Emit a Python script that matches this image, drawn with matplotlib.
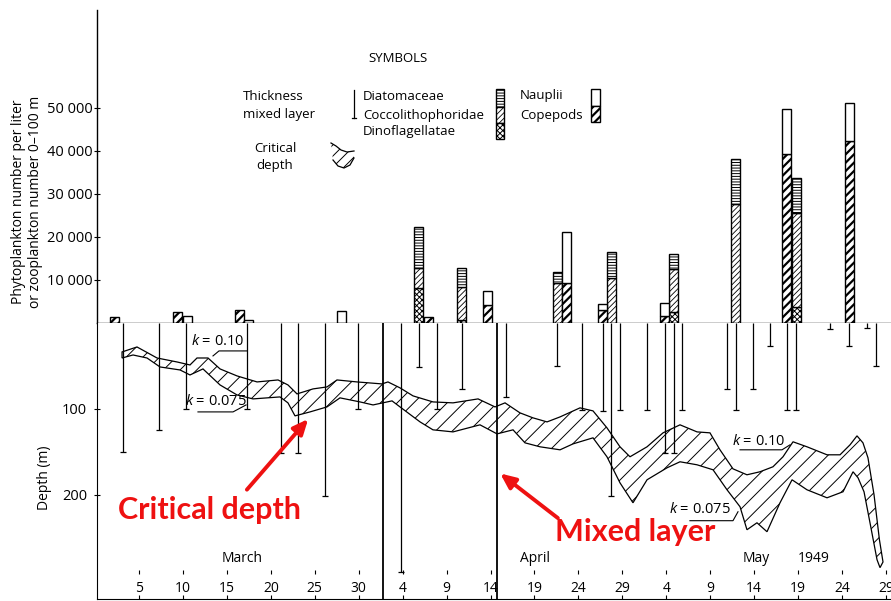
import matplotlib
matplotlib.use('Agg')
import matplotlib.pyplot as plt
from matplotlib.patches import Rectangle, Polygon
import matplotlib.transforms as mtransforms

plt.rcParams['font.family'] = ['Open Sans', 'DejaVu Sans']
plt.rcParams['mathtext.fontset'] = 'custom'
plt.rcParams['mathtext.it'] = 'Open Sans:italic'
plt.rcParams['mathtext.rm'] = 'Open Sans'

# ---------------- data ----------------
count_ticks = [10000, 20000, 30000, 40000, 50000]
count_tick_labels = ['10 000', '20 000', '30 000', '40 000', '50 000']
depth_ticks = [100, 200]
depth_tick_labels = ['100', '200']
# day numbers counted from 1 March 1949
date_ticks = [5, 10, 15, 20, 25, 30, 35, 40, 45, 50, 55, 60, 65, 70, 75, 80, 85, 90]
date_tick_labels = ['5', '10', '15', '20', '25', '30', '4', '9', '14', '19', '24', '29',
                    '4', '9', '14', '19', '24', '29']
month_labels = ['March', 'April', 'May', '1949']
month_label_days = [16.7, 50.1, 75.2, 81.8]

# phytoplankton (number per liter)
phyto_days = [36.3, 41.2, 52.1, 58.25, 65.3, 72.36, 79.31]
dinoflagellatae = [8100, 600, 0, 0, 2500, 0, 3500]
coccolithophoridae = [4600, 7700, 9100, 10400, 10000, 27600, 22000]
diatomaceae = [9500, 4400, 2600, 6100, 3500, 10500, 8100]

# zooplankton (number 0-100 m)
zoo_days = [1.70, 8.87, 10.01, 15.92, 16.94, 27.53, 37.43, 44.14, 53.13, 57.23, 64.28, 78.17, 85.34]
copepods = [1300, 2400, 0, 2900, 0, 0, 1300, 4100, 9100, 3000, 1600, 39300, 42300]
nauplii = [0, 0, 1500, 0, 600, 2700, 0, 3200, 11900, 1300, 2900, 10500, 8900]

# thickness of mixed layer (m)
mixed_days = [3.19, 7.29, 10.36, 17.3, 21.16, 23.1, 26.17, 29.93, 34.81, 36.86, 38.91,
              41.75, 46.76, 52.56, 55.4, 57.79, 58.71, 59.73, 62.8, 64.85, 65.87, 66.78,
              71.91, 72.9, 74.87, 76.8, 78.74, 79.76, 83.6, 85.8, 87.84, 88.85]
mixed_depth = [150, 125, 100, 100, 152, 152, 201, 100, 290, 52, 101,
               77, 87, 51, 102, 103, 202, 102, 102, 152, 152, 102,
               77, 102, 77, 27, 102, 102, 7, 27, 6, 51]
separator_days = [32.76, 45.7]

# critical depth, k = 0.10
crit10_days = [3.07, 4.77, 6.02, 7.05, 9.32, 10.80, 11.60, 12.85, 14.22, 16.15, 18.43, 20.82,
               21.95, 22.98, 24.80, 26.39, 27.53, 29.81, 32.65, 33.33, 34.70, 36.18, 38.45,
               40.73, 43.58, 45.51, 46.65, 48.35, 49.83, 51.43, 52.91, 55.18, 56.66, 58.25,
               59.73, 60.87, 62.81, 64.63, 66.56, 68.50, 69.97, 71.11, 72.59, 74.18, 75.66,
               77.14, 78.28, 79.42, 81.01, 83.29, 84.77, 85.91, 86.70, 87.38, 87.95, 88.64,
               89.25, 89.66]
crit10_depth = [34.2, 28.4, 35.4, 41.2, 45.8, 49.3, 41.2, 41.2, 53.9, 62.0, 69.0, 66.7,
                72.5, 82.9, 77.1, 74.8, 66.7, 69.0, 71.3, 69.0, 75.9, 85.2, 92.2,
                93.3, 88.7, 98.0, 93.3, 104.9, 110.7, 115.4, 109.6, 99.1, 102.6, 122.3,
                144.3, 155.9, 144.3, 128.1, 118.8, 127.0, 128.1, 147.8, 169.9, 176.8, 173.3,
                167.5, 155.9, 138.5, 144.3, 153.6, 153.6, 142.0, 131.6, 139.7, 157.1, 200.0,
                252.0, 278.0]
# critical depth, k = 0.075
crit075_days = [3.07, 4.32, 5.91, 7.39, 9.67, 10.80, 12.28, 14.22, 16.15, 17.97, 21.04, 21.95,
                22.75, 24.46, 26.39, 27.87, 30.15, 31.63, 33.79, 34.70, 36.98, 38.45, 40.73,
                43.80, 45.74, 47.56, 48.92, 50.63, 52.91, 54.39, 56.66, 58.25, 59.73, 61.21,
                62.81, 65.08, 66.56, 68.50, 70.32, 71.91, 73.39, 74.18, 75.32, 76.46, 77.94,
                79.31, 81.01, 83.29, 85.11, 86.25, 86.82, 87.50, 88.18, 88.98, 89.32]
crit075_depth = [41.2, 37.7, 41.2, 51.6, 55.1, 60.9, 53.9, 72.5, 84.1, 88.7, 86.4, 93.3,
                 108.4, 103.8, 98.0, 87.5, 92.2, 95.7, 91.0, 98.0, 115.4, 124.6, 127.0,
                 118.8, 129.3, 124.6, 139.7, 144.3, 147.8, 140.9, 133.9, 155.9, 186.1, 209.3,
                 182.6, 168.7, 161.7, 165.2, 171.0, 194.2, 213.9, 240.6, 232.5, 242.9, 209.3,
                 182.6, 194.2, 203.5, 196.5, 173.3, 180.3, 196.5, 232.5, 275.4, 284.6]

# ---------------- figure ----------------
W, H = 891, 601
fig = plt.figure(figsize=(W / 100, H / 100), dpi=100)

def fx(x):
    return x / W

def fy(y):
    return 1 - y / H

L = 97 / W
axc = fig.add_axes([L, fy(322.5), 1 - L, (322.5 - 10) / H])
axd = fig.add_axes([L, fy(599), 1 - L, (599 - 322.5) / H])
xlim = (0.22, 90.57)

FS = 9.5

# ---- upper panel: plankton bars ----
axc.set_xlim(*xlim)
axc.set_ylim(0, 72840)
for s in ['top', 'right']:
    axc.spines[s].set_visible(False)
axc.spines['left'].set_linewidth(1.0)
axc.spines['bottom'].set_linewidth(1.0)
axc.set_xticks([])
axc.set_yticks(count_ticks)
axc.set_yticklabels(count_tick_labels, fontsize=10.5)
axc.tick_params(axis='y', direction='inout', length=4, width=0.8, pad=1)

w = 1.05

def hbar(ax, x, h, b, hatch, hlw, fc='white'):
    for xi, hi, bi in zip(x, h, b):
        if hi <= 0:
            continue
        with plt.rc_context({'hatch.linewidth': hlw}):
            bars = ax.bar([xi], [hi], bottom=[bi], width=w, align='edge', color=fc,
                          edgecolor='black', linewidth=1.0, hatch=hatch)
        for p in bars:
            try:
                p.set_hatch_linewidth(hlw)
            except Exception:
                pass

zero = [0] * len(phyto_days)
b2 = [a for a in dinoflagellatae]
b3 = [a + c for a, c in zip(dinoflagellatae, coccolithophoridae)]
hbar(axc, phyto_days, dinoflagellatae, zero, 'xxxxxx', 0.7)
hbar(axc, phyto_days, coccolithophoridae, b2, '//////', 0.6)
hbar(axc, phyto_days, diatomaceae, b3, '------', 0.7)
hbar(axc, zoo_days, copepods, [0] * len(zoo_days), '////', 1.6)
hbar(axc, zoo_days, nauplii, copepods, None, 1.0)

axc.set_ylabel('Phytoplankton number per liter\nor zooplankton number 0\u2013100 m',
               fontsize=10, linespacing=1.2)
axc.yaxis.set_label_coords(-0.068, 0.386)

# ---- lower panel: depth ----
axd.set_xlim(*xlim)
axd.set_ylim(321, 0)
for s in ['top', 'right']:
    axd.spines[s].set_visible(False)
axd.set_yticks(depth_ticks)
axd.set_yticklabels(depth_tick_labels, fontsize=10.5)
axd.tick_params(axis='y', direction='inout', length=4, width=0.8, pad=5)
axd.set_xticks(date_ticks)
axd.set_xticklabels(date_tick_labels, fontsize=10)
axd.tick_params(axis='x', direction='in', length=3, width=0.8, pad=-13)
axd.set_ylabel('Depth (m)', fontsize=10)
axd.yaxis.set_label_coords(-0.057, 0.44)

bt = mtransforms.blended_transform_factory(axd.transData, axd.transAxes)
axd.plot(date_ticks, [0.098] * len(date_ticks), transform=bt, ls='none', marker='|',
         ms=3, mew=0.8, color='black')
for t, d in zip(month_labels, month_label_days):
    axd.text(d, 0.148, t, transform=bt, ha='center', va='center', fontsize=10)

# critical depth band
poly_x = crit10_days + crit075_days[::-1]
poly_y = crit10_depth + crit075_depth[::-1]
with plt.rc_context({'hatch.linewidth': 0.7}):
    band = axd.fill(poly_x, poly_y, facecolor='none', edgecolor='black', linewidth=0.9,
                    hatch='//')
for p in band:
    try:
        p.set_hatch_linewidth(0.7)
    except Exception:
        pass

# mixed layer thickness
axd.vlines(mixed_days, 0, mixed_depth, color='black', linewidth=0.9)
axd.plot(mixed_days, mixed_depth, ls='none', marker='_', ms=4, mew=0.9, color='black')
for d in separator_days:
    axd.axvline(d, color='black', linewidth=1.3)

# k labels
ktxt = dict(fontsize=10.5, va='center', ha='left')
axd.text(10.9, 22.6, r'$k$ = 0.10', **ktxt)
axd.plot([13.42, 14.1, 17.3], [38.8, 33.0, 33.0], color='black', lw=0.8)
axd.text(10.2, 92.2, r'$k$ = 0.075', **ktxt)
axd.plot([11.71, 15.70, 17.18], [103.8, 103.8, 95.7], color='black', lw=0.8)
axd.text(72.5, 138.5, r'$k$ = 0.10', **ktxt)
axd.plot([73.39, 78.17, 79.08], [147.8, 147.8, 142.0], color='black', lw=0.8)
axd.text(65.3, 217.4, r'$k$ = 0.075', **ktxt)
axd.plot([67.69, 72.59, 73.16], [230.1, 230.1, 219.7], color='black', lw=0.8)

# red annotations
red = '#ee1111'
axd.annotate('', xy=(24.46, 109.6), xytext=(17.07, 196.5),
             arrowprops=dict(arrowstyle='-|>,head_width=0.4,head_length=0.9', color=red, lw=2.8))
axd.text(13.07, 217.4, 'Critical depth', color=red, fontsize=22, fontweight='bold',
         ha='center', va='center', family=['Lato', 'DejaVu Sans'])
axd.annotate('', xy=(45.85, 173.3), xytext=(52.91, 229.0),
             arrowprops=dict(arrowstyle='-|>,head_width=0.4,head_length=0.9', color=red, lw=2.8))
axd.text(61.44, 242.9, 'Mixed layer', color=red, fontsize=22, fontweight='bold',
         ha='center', va='center', family=['Lato', 'DejaVu Sans'])

# ---- legend (SYMBOLS) ----
ft = dict(fontsize=FS, transform=fig.transFigure, va='center')
fig.text(fx(398), fy(58), 'SYMBOLS', ha='center', **ft)
fig.text(fx(243), fy(96), 'Thickness', ha='left', **ft)
fig.text(fx(243), fy(114), 'mixed layer', ha='left', **ft)
fig.text(fx(275), fy(148), 'Critical', ha='center', **ft)
fig.text(fx(275), fy(166), 'depth', ha='center', **ft)
fig.text(fx(363), fy(96), 'Diatomaceae', ha='left', **ft)
fig.text(fx(363), fy(115), 'Coccolithophoridae', ha='left', **ft)
fig.text(fx(363), fy(132), 'Dinoflagellatae', ha='left', **ft)
fig.text(fx(520), fy(96), 'Nauplii', ha='left', **ft)
fig.text(fx(520), fy(115), 'Copepods', ha='left', **ft)

fig.add_artist(plt.Line2D([fx(354), fx(354)], [fy(90), fy(118)], color='black', lw=0.9,
                          transform=fig.transFigure))
fig.add_artist(plt.Line2D([fx(352), fx(356)], [fy(118), fy(118)], color='black', lw=0.9,
                          transform=fig.transFigure))

def frect(x0, y0, x1, y1, hatch, hlw):
    with plt.rc_context({'hatch.linewidth': hlw}):
        r = Rectangle((fx(x0), fy(y1)), (x1 - x0) / W, (y1 - y0) / H, transform=fig.transFigure,
                      facecolor='white', edgecolor='black', linewidth=1.0, hatch=hatch)
    try:
        r.set_hatch_linewidth(hlw)
    except Exception:
        pass
    fig.add_artist(r)

frect(496, 89, 504, 107, '------', 0.7)
frect(496, 107, 504, 123, '//////', 0.6)
frect(496, 123, 504, 139, 'xxxxxx', 0.7)
frect(591, 89, 600, 106, None, 1.0)
frect(591, 106, 600, 122, '////', 1.6)

# critical depth legend symbol (hatched wave)
sym_up = [(331, 143), (336, 146), (341, 150), (347, 152), (354, 151)]
sym_lo = [(354, 158), (350, 165), (344, 168), (338, 166), (333, 160)]
with plt.rc_context({'hatch.linewidth': 0.7}):
    sym = Polygon([(fx(a), fy(b)) for a, b in sym_up + sym_lo], closed=True,
                  transform=fig.transFigure, facecolor='none', edgecolor='black',
                  linewidth=0, hatch='///')
try:
    sym.set_hatch_linewidth(0.7)
except Exception:
    pass
fig.add_artist(sym)
fig.add_artist(plt.Line2D([fx(a) for a, b in sym_up], [fy(b) for a, b in sym_up],
                          color='black', lw=0.9, transform=fig.transFigure))
fig.add_artist(plt.Line2D([fx(a) for a, b in sym_lo], [fy(b) for a, b in sym_lo],
                          color='black', lw=0.9, transform=fig.transFigure))

fig.savefig('out.png', dpi=100)
